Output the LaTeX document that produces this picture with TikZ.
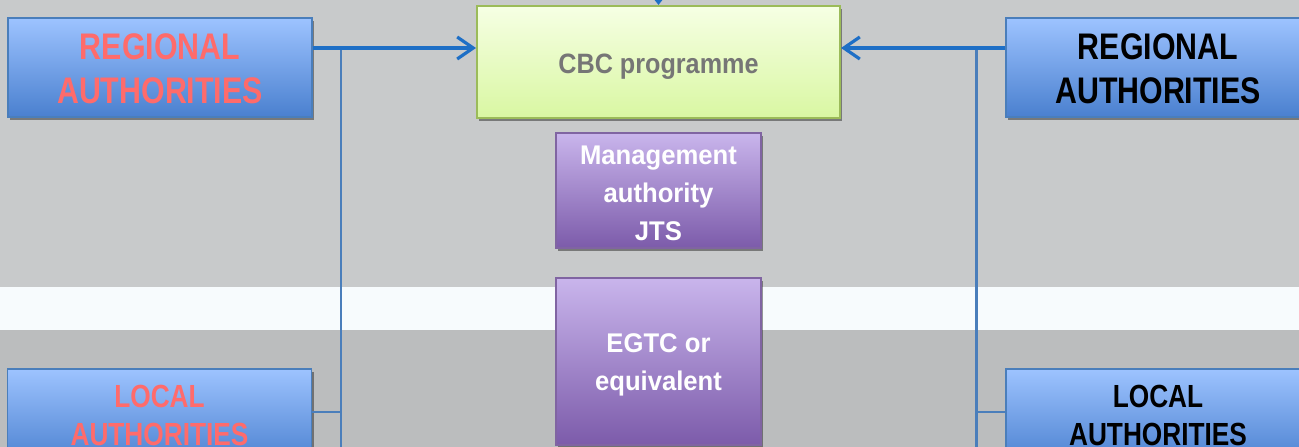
\documentclass[tikz,border=0pt]{standalone}
\usepackage{fontspec}
\setmainfont{Liberation Sans}
\newfontfamily\narA[FakeStretch=0.82]{Liberation Sans}
\newfontfamily\narB[FakeStretch=0.9]{Liberation Sans}
\newfontfamily\narC[FakeStretch=0.95]{Liberation Sans}
\usetikzlibrary{arrows.meta,shadows}
\definecolor{bgtop}{HTML}{C8CACB}
\definecolor{bgbot}{HTML}{BBBDBE}
\definecolor{bandc}{HTML}{F7FBFD}
\definecolor{blueT}{HTML}{9DC3FF}
\definecolor{blueM}{HTML}{7FA8EC}
\definecolor{blueB}{HTML}{4A80CF}
\definecolor{blueD}{HTML}{4A7EBB}
\definecolor{redT}{HTML}{FF6B6B}
\definecolor{greenT}{HTML}{F6FFE4}
\definecolor{greenB}{HTML}{D9F7A2}
\definecolor{greenD}{HTML}{9BBB59}
\definecolor{greyT}{HTML}{767676}
\definecolor{purT}{HTML}{C9B5EC}
\definecolor{purB}{HTML}{7C5BAA}
\definecolor{purD}{HTML}{8064A2}
\definecolor{arrC}{HTML}{1E6FC6}
\newcommand{\lines}[2]{\raisebox{#1}[\height][\depth]{\begin{tabular}{@{}c@{}}#2\end{tabular}}}
\newcommand{\oneline}[2]{\raisebox{#1}[\height][\depth]{#2}}
\tikzset{
  shad/.style={drop shadow={shadow xshift=2pt,shadow yshift=-3pt,opacity=0.4,fill=black}},
  authbox/.style={shad,draw=blueD,line width=1.2pt,top color=blueT,middle color=blueM,bottom color=blueB,
    minimum width=304pt,inner sep=0pt,align=center,font=\narA\bfseries\fontsize{37}{44}\selectfont},
  locbox/.style={authbox,font=\narA\bfseries\fontsize{32}{38}\selectfont},
  cbcbox/.style={shad,draw=greenD,line width=2pt,top color=greenT,bottom color=greenB,
    minimum width=363pt,minimum height=112pt,inner sep=0pt,text=greyT,font=\narB\bfseries\fontsize{28}{34}\selectfont},
  purbox/.style={shad,draw=purD,line width=1.2pt,top color=purT,bottom color=purB,
    minimum width=205pt,inner sep=0pt,align=center,text=white,font=\narC\bfseries\fontsize{27}{38}\selectfont},
  arr/.style={draw=arrC,line width=3.2pt,-{Straight Barb[length=16pt,width=22pt,line width=3.2pt]}},
  toparr/.style={draw=arrC,line width=3pt,-{Triangle[length=8pt,width=12pt]}},
  vline/.style={draw=blueD,line width=2.6pt}
}
\begin{document}
\begin{tikzpicture}[x=1pt,y=-1pt]
\clip (0,0) rectangle (1299,447);
\fill[bgtop] (0,0) rectangle (1299,287);
\fill[bandc] (0,287) rectangle (1299,330);
\fill[bgbot] (0,330) rectangle (1299,447);

\node[authbox,minimum height=99pt,text=redT] (lreg) at (160,67.5) {\lines{-5pt}{REGIONAL\\AUTHORITIES}};
\node[authbox,minimum height=99pt,text=black] (rreg) at (1158,67.5) {\lines{-5pt}{REGIONAL\\AUTHORITIES}};
\node[locbox,minimum height=96pt,text=redT] (lloc) at (159.5,417) {\lines{-2pt}{LOCAL\\AUTHORITIES}};
\node[locbox,minimum height=96pt,text=black] (rloc) at (1158,417) {\lines{-2pt}{LOCAL\\AUTHORITIES}};
\node[cbcbox] (cbc) at (658.5,62) {\oneline{-4.5pt}{CBC programme}};
\node[purbox,minimum height=115pt] (mgmt) at (658.5,190.5) {\lines{-4pt}{Management\\authority\\JTS}};
\node[purbox,minimum height=167pt] (egtc) at (658.5,361.5) {\lines{-2pt}{EGTC or\\equivalent}};

\coordinate (topin) at (658.5,-30);
\draw[toparr] (topin) -- (cbc.north);

\coordinate (ltop) at (341,48);
\coordinate (lbot) at (341,470);
\coordinate (rtop) at (976.5,48);
\coordinate (rbot) at (976.5,470);
\draw[vline] (ltop) -- (lbot);
\draw[vline] (rtop) -- (rbot);
\draw[vline] ([yshift=5pt]lloc.east) coordinate (lj) -- (lj -| ltop);
\draw[vline] ([yshift=5pt]rloc.west) coordinate (rj) -- (rj -| rtop);
\draw[arr] ([yshift=19.5pt]lreg.east) coordinate (la) -- (la -| cbc.west);
\draw[arr] ([yshift=19.5pt]rreg.west) coordinate (ra) -- (ra -| cbc.east);
\end{tikzpicture}
\end{document}
